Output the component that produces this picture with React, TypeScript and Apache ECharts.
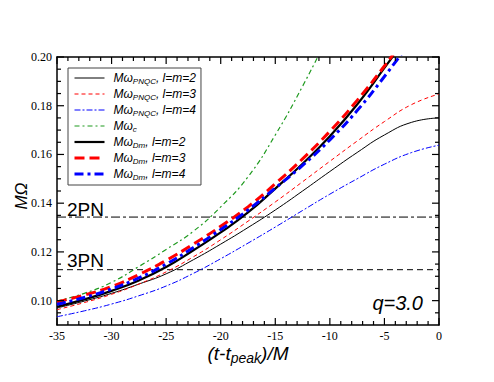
import React, { useEffect, useRef } from "react";
import * as echarts from "echarts";

const T = [-35, -32.5, -30, -27.5, -25, -22.5, -20, -17.5, -15, -12.5, -10, -7.5, -5, -2.5, 0];

const PNQC22 = [0.0970, 0.0998, 0.1030, 0.1068, 0.1110, 0.1168, 0.1232, 0.1300, 0.1372, 0.1450, 0.1530, 0.1608, 0.1680, 0.1732, 0.1750];
const PNQC33 = [0.0963, 0.0992, 0.1026, 0.1068, 0.1118, 0.1180, 0.1250, 0.1326, 0.1405, 0.1488, 0.1572, 0.1655, 0.1735, 0.1805, 0.1848];
const PNQC44 = [0.0934, 0.0958, 0.0986, 0.1020, 0.1060, 0.1112, 0.1172, 0.1236, 0.1302, 0.1370, 0.1437, 0.1500, 0.1560, 0.1608, 0.1638];
const OMEGA_C = [0.0998, 0.1030, 0.1075, 0.1140, 0.1210, 0.1285, 0.1385, 0.1508, 0.1680, 0.1880, 0.2100];
const DM22 = [0.0975, 0.1005, 0.1040, 0.1083, 0.1138, 0.1207, 0.1280, 0.1362, 0.1460, 0.1562, 0.1675, 0.1805, 0.1955, 0.2110];
const DM33 = [0.0995, 0.1023, 0.1058, 0.1107, 0.1165, 0.1232, 0.1305, 0.1385, 0.1480, 0.1582, 0.1695, 0.1822, 0.1963, 0.2115];
const DM44 = [0.0985, 0.1013, 0.1048, 0.1093, 0.1150, 0.1218, 0.1292, 0.1372, 0.1462, 0.1555, 0.1660, 0.1780, 0.1920, 0.2070];

const PN2 = 0.1343;
const PN3 = 0.1127;

const X_MAJOR = [-35, -30, -25, -20, -15, -10, -5, 0];
const X_MINOR = [-34, -33, -32, -31, -29, -28, -27, -26, -24, -23, -22, -21, -19, -18, -17, -16, -14, -13, -12, -11, -9, -8, -7, -6, -4, -3, -2, -1];
const Y_MAJOR = [0.10, 0.12, 0.14, 0.16, 0.18, 0.20];
const Y_MINOR = [0.095, 0.105, 0.11, 0.115, 0.125, 0.13, 0.135, 0.145, 0.15, 0.155, 0.165, 0.17, 0.175, 0.185, 0.19, 0.195];

const SANS = "Liberation Sans";
const SERIF = "Liberation Serif";

const LEGEND_TEXT: Record<string, string> = {
  PNQC22: "{m0|Mω}{s|PNQC}{m|, l=m=2}",
  PNQC33: "{m0|Mω}{s|PNQC}{m|, l=m=3}",
  PNQC44: "{m0|Mω}{s|PNQC}{m|, l=m=4}",
  OmegaC: "{m0|Mω}{s|c}",
  Dm22: "{m0|Mω}{s|Dm}{m|, l=m=2}",
  Dm33: "{m0|Mω}{s|Dm}{m|, l=m=3}",
  Dm44: "{m0|Mω}{s|Dm}{m|, l=m=4}",
};

const STYLES: Record<string, { color: string; width: number; type: any; z: number }> = {
  PNQC22: { color: "#000000", width: 1, type: "solid", z: 2 },
  PNQC33: { color: "#ff0000", width: 1, type: [4, 3], z: 2 },
  PNQC44: { color: "#0000ff", width: 1, type: [6, 2, 2, 2], z: 2 },
  OmegaC: { color: "#1f9a1f", width: 1.2, type: [5, 3, 2, 3], z: 2 },
  Dm22: { color: "#000000", width: 2.2, type: "solid", z: 3 },
  Dm33: { color: "#ff0000", width: 3, type: [10, 5], z: 4 },
  Dm44: { color: "#0000ff", width: 3, type: [9, 4, 3, 4], z: 5 },
};

const pairs = (vals: number[]) => vals.map((v, i) => [T[i], v]);

// tick items: [value, kind]; kind 0 = x major, 1 = x minor, 2 = y major, 3 = y minor
const TICKS = [
  ...X_MAJOR.map((v) => [v, 0]),
  ...X_MINOR.map((v) => [v, 1]),
  ...Y_MAJOR.map((v) => [v, 2]),
  ...Y_MINOR.map((v) => [v, 3]),
];

export default function App() {
  const ref = useRef<HTMLDivElement>(null);
  useEffect(() => {
    if (!ref.current) return;
    const chart = echarts.init(ref.current, null, { renderer: "svg" });
    const line = (name: string, data: number[]) => {
      const s = STYLES[name];
      return {
        name,
        type: "line",
        data: pairs(data),
        smooth: true,
        symbol: "none",
        clip: true,
        z: s.z,
        lineStyle: { color: s.color, width: s.width, type: s.type },
        itemStyle: { color: s.color },
      };
    };
    const tickLine = (x1: number, y1: number, x2: number, y2: number) => ({
      type: "line",
      shape: { x1, y1, x2, y2 },
      style: { stroke: "#000", lineWidth: 1.2 },
    });
    const legendNames = ["PNQC22", "PNQC33", "PNQC44", "OmegaC", "Dm22", "Dm33", "Dm44"];
    chart.setOption({
      animation: false,
      backgroundColor: "#fff",
      grid: { left: 57, right: 55, top: 57, bottom: 57, containLabel: false },
      legend: {
        left: 68,
        top: 68,
        orient: "vertical",
        padding: [4, 5, 4, 5],
        itemGap: 3,
        itemWidth: 30,
        itemHeight: 10,
        borderColor: "#444",
        borderWidth: 1,
        itemStyle: { opacity: 0 },
        data: legendNames.map((n) => ({
          name: n,
          itemStyle: { opacity: 0 },
          lineStyle: { color: STYLES[n].color, width: STYLES[n].width, type: STYLES[n].type },
        })),
        formatter: (name: string) => LEGEND_TEXT[name] || name,
        textStyle: {
          fontFamily: SANS,
          fontStyle: "italic",
          fontSize: 12,
          color: "#000",
          rich: {
            m0: { fontFamily: SANS, fontStyle: "italic", fontSize: 12, color: "#000", padding: [0, 0, 0, 4] },
            m: { fontFamily: SANS, fontStyle: "italic", fontSize: 12, color: "#000" },
            s: { fontFamily: SANS, fontStyle: "italic", fontSize: 8, color: "#000", padding: [6, 0, 0, 0] },
          },
        },
      },
      xAxis: [
        {
          type: "value",
          min: -35,
          max: 0,
          interval: 5,
          position: "bottom",
          splitLine: { show: false },
          axisLine: { show: true, onZero: false, lineStyle: { color: "#000", width: 1.5 } },
          axisTick: { show: false },
          axisLabel: { show: true, margin: 5, fontFamily: SERIF, fontSize: 12, color: "#000" },
        },
        {
          type: "value",
          min: -35,
          max: 0,
          interval: 5,
          position: "top",
          splitLine: { show: false },
          axisLine: { show: true, onZero: false, lineStyle: { color: "#000", width: 1.5 } },
          axisTick: { show: false },
          axisLabel: { show: false },
        },
      ],
      yAxis: [
        {
          type: "value",
          min: 0.1,
          max: 0.2,
          interval: 0.02,
          position: "left",
          splitLine: { show: false },
          axisLine: { show: true, onZero: false, lineStyle: { color: "#000", width: 1.5 } },
          axisTick: { show: false },
          axisLabel: { show: false },
        },
        {
          type: "value",
          min: 0.09,
          max: 0.2,
          interval: 0.01,
          position: "left",
          splitLine: { show: false },
          axisLine: { show: false, onZero: false },
          axisTick: { show: false },
          axisLabel: {
            show: true,
            margin: 5,
            fontFamily: SERIF,
            fontSize: 12,
            color: "#000",
            formatter: (v: number) => (Math.round(v * 100) % 2 === 0 ? v.toFixed(2) : ""),
          },
        },
        {
          type: "value",
          min: 0.09,
          max: 0.2,
          interval: 0.01,
          position: "right",
          splitLine: { show: false },
          axisLine: { show: true, onZero: false, lineStyle: { color: "#000", width: 1.5 } },
          axisTick: { show: false },
          axisLabel: { show: false },
        },
      ],
      graphic: [
        { type: "text", x: 67, y: 209, style: { text: "2PN", font: `19px ${SANS}`, fill: "#000", textVerticalAlign: "middle" } },
        { type: "text", x: 67, y: 260, style: { text: "3PN", font: `19px ${SANS}`, fill: "#000", textVerticalAlign: "middle" } },
        { type: "text", x: 423, y: 303, style: { text: "q=3.0", font: `italic 20px ${SANS}`, fill: "#000", textAlign: "right", textVerticalAlign: "middle" } },
        {
          type: "text",
          x: 248,
          y: 353,
          style: {
            text: "{a|(t-t}{b|peak}{a|)/M}",
            textAlign: "center",
            textVerticalAlign: "middle",
            rich: {
              a: { fontFamily: SANS, fontStyle: "italic", fontSize: 19, fill: "#000", color: "#000" },
              b: { fontFamily: SANS, fontStyle: "italic", fontSize: 14, fill: "#000", color: "#000", padding: [9, 0, 0, 0] },
            },
          },
        },
        {
          type: "text",
          x: 21,
          y: 196,
          rotation: Math.PI / 2,
          style: { text: "MΩ", font: `italic 17px ${SANS}`, fill: "#000", textAlign: "center", textVerticalAlign: "middle" },
        },
      ],
      series: [
        { name: "2PN", type: "line", symbol: "none", yAxisIndex: 1, data: [[-35, PN2], [0, PN2]], lineStyle: { color: "#000", width: 1, type: [9, 3, 3, 3] }, z: 1 },
        { name: "3PN", type: "line", symbol: "none", yAxisIndex: 1, data: [[-35, PN3], [0, PN3]], lineStyle: { color: "#000", width: 1, type: [6, 4] }, z: 1 },
        { ...line("PNQC22", PNQC22), yAxisIndex: 1 },
        { ...line("PNQC33", PNQC33), yAxisIndex: 1 },
        { ...line("PNQC44", PNQC44), yAxisIndex: 1 },
        { ...line("OmegaC", OMEGA_C), yAxisIndex: 1 },
        { ...line("Dm22", DM22), yAxisIndex: 1 },
        { ...line("Dm33", DM33), yAxisIndex: 1 },
        { ...line("Dm44", DM44), yAxisIndex: 1 },
        {
          name: "ticks",
          type: "custom",
          yAxisIndex: 1,
          clip: false,
          silent: true,
          z: 6,
          data: TICKS,
          renderItem: (params: any, api: any) => {
            const v = api.value(0);
            const kind = api.value(1);
            const cs = params.coordSys;
            const bottom = cs.y + cs.height;
            const right = cs.x + cs.width;
            if (kind === 0 || kind === 1) {
              const len = kind === 0 ? 7 : 4;
              const px = api.coord([v, 0.15])[0];
              return {
                type: "group",
                children: [tickLine(px, bottom, px, bottom - len), tickLine(px, cs.y, px, cs.y + len)],
              };
            }
            const len = kind === 2 ? 7 : 4;
            const py = api.coord([-20, v])[1];
            return {
              type: "group",
              children: [tickLine(cs.x, py, cs.x + len, py), tickLine(right, py, right - len, py)],
            };
          },
        },
      ],
    });
    return () => chart.dispose();
  }, []);
  return <div ref={ref} style={{ width: 494, height: 382, margin: -8 }} />;
}
